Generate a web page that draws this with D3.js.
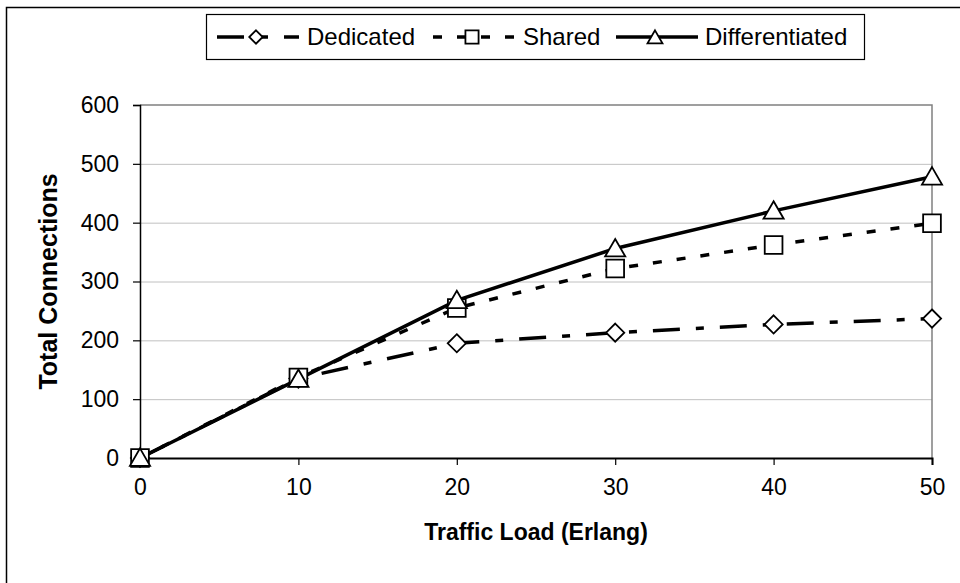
<!DOCTYPE html>
<html lang="en">
  <head>
    <meta charset="UTF-8" />
    <title>Total Connections vs Traffic Load</title>
    <style>
      body { margin: 0; background: #fff; }
      text { font-family: "Liberation Sans", Arial, sans-serif; fill: #000; }
      .grid line { stroke: #c0c0c0; stroke-width: 1px; }
      .tick-label { font-size: 23px; }
      .axis-title { font-size: 23px; font-weight: bold; }
      .legend-text { font-size: 24px; }
      .series { fill: none; stroke: #000; stroke-width: 3.5px; }
      .marker { fill: #fff; stroke: #000; stroke-width: 1.8px; }
    </style>
  </head>
  <body>
    <script src="https://cdn.jsdelivr.net/npm/d3@7"></script>
    <script>

      // data
      var loads = [0, 10, 20, 30, 40, 50];
      var dedicated = [0, 135, 195, 213, 227, 237];
      var shared = [0, 137, 255, 322, 362, 399];
      var differentiated = [0, 134, 268, 356, 420, 478];
      var seriesNames = ["Dedicated", "Shared", "Differentiated"];
      var xTicks = [0, 10, 20, 30, 40, 50];
      var yTicks = [0, 100, 200, 300, 400, 500, 600];

      var w = 960, h = 583;
      var margin = { top: 105, right: 28, bottom: 125, left: 140 };
      var iw = w - margin.left - margin.right,
          ih = h - margin.top - margin.bottom;

      var svg = d3.select("body").append("svg")
        .attr("width", w)
        .attr("height", h);

      // outer frame (runs off the bottom / right edge)
      svg.append("rect")
        .attr("x", 6.5).attr("y", 7.5)
        .attr("width", 970).attr("height", 600)
        .attr("fill", "none")
        .attr("stroke", "#000")
        .attr("stroke-width", 1.5);

      var xScale = d3.scaleLinear().domain([0, 50]).range([0, iw]);
      var yScale = d3.scaleLinear().domain([0, 600]).range([ih, 0]);

      var g = svg.append("g")
        .attr("transform", "translate(" + margin.left + "," + margin.top + ")");

      // gridlines
      g.append("g")
        .attr("class", "grid")
        .call(d3.axisLeft(yScale).tickValues(yTicks.slice(1, -1)).tickSize(-iw).tickFormat(""))
        .call(function(s) { s.select(".domain").remove(); });

      // plot area border top + right (grey)
      g.append("path")
        .attr("d", "M0," + yScale(600) + "H" + xScale(50) + "V" + yScale(0))
        .attr("fill", "none")
        .attr("stroke", "#808080")
        .attr("stroke-width", 1.5);

      var xAxis = d3.axisBottom(xScale).tickValues(xTicks).tickSize(7).tickPadding(14);
      var yAxis = d3.axisLeft(yScale).tickValues(yTicks).tickSize(7).tickPadding(14);

      var gx = g.append("g")
        .attr("transform", "translate(0," + ih + ")")
        .call(xAxis);
      gx.select(".domain").attr("stroke-width", 2);
      gx.selectAll(".tick line").attr("stroke-width", 1.2);
      gx.selectAll(".tick text").attr("class", "tick-label").attr("font-size", null).attr("font-family", null);

      var gy = g.append("g").call(yAxis);
      gy.select(".domain").attr("stroke-width", 1.5);
      gy.selectAll(".tick line").attr("stroke-width", 1.2);
      gy.selectAll(".tick text").attr("class", "tick-label").attr("font-size", null).attr("font-family", null);

      // axis titles
      svg.append("text")
        .attr("class", "axis-title")
        .attr("x", margin.left + iw / 2)
        .attr("y", 540)
        .attr("text-anchor", "middle")
        .text("Traffic Load (Erlang)");

      svg.append("text")
        .attr("class", "axis-title")
        .attr("transform", "translate(57," + (margin.top + ih / 2) + ") rotate(-90)")
        .attr("text-anchor", "middle")
        .style("font-size", "25px")
        .text("Total Connections");

      // series
      var seriesData = [dedicated, shared, differentiated];
      var dashes = ["27,16,8,16", "9,15", null];
      var symbols = [d3.symbolDiamond2, d3.symbolSquare2, d3.symbolTriangle2];
      var symSizes = [210, 400, 290];

      var line = d3.line()
        .x(function(d, i) { return xScale(loads[i]); })
        .y(function(d) { return yScale(d); });

      seriesData.forEach(function(vals, k) {
        g.append("path")
          .datum(vals)
          .attr("class", "series")
          .attr("stroke-dasharray", dashes[k])
          .attr("d", line);
      });

      seriesData.forEach(function(vals, k) {
        g.selectAll(".m" + k)
          .data(vals)
          .enter()
          .append("path")
          .attr("class", "marker m" + k)
          .attr("transform", function(d, i) {
            return "translate(" + xScale(loads[i]) + "," + (yScale(d) + (k == 2 ? 2 : 0)) + ")";
          })
          .attr("d", d3.symbol().type(symbols[k]).size(symSizes[k]));
      });

      // legend
      var legend = svg.append("g");
      legend.append("rect")
        .attr("x", 206.5).attr("y", 14.5)
        .attr("width", 658).attr("height", 45)
        .attr("fill", "#fff")
        .attr("stroke", "#000")
        .attr("stroke-width", 1.2);

      var legendX = [217, 433, 616];
      var legendTextX = [307, 523, 705];
      var legendY = 37;

      seriesNames.forEach(function(name, k) {
        legend.append("line")
          .attr("class", "series")
          .attr("x1", legendX[k])
          .attr("x2", legendX[k] + 82)
          .attr("y1", legendY)
          .attr("y2", legendY)
          .attr("stroke-dasharray", dashes[k]);
        legend.append("path")
          .attr("class", "marker")
          .attr("transform", "translate(" + (legendX[k] + 39) + "," + (legendY + (k == 2 ? 2 : 0)) + ")")
          .attr("d", d3.symbol().type(symbols[k]).size(symSizes[k] * 0.55));
        legend.append("text")
          .attr("class", "legend-text")
          .attr("x", legendTextX[k])
          .attr("y", legendY)
          .attr("dy", "0.35em")
          .text(name);
      });

    </script>
  </body>
</html>
